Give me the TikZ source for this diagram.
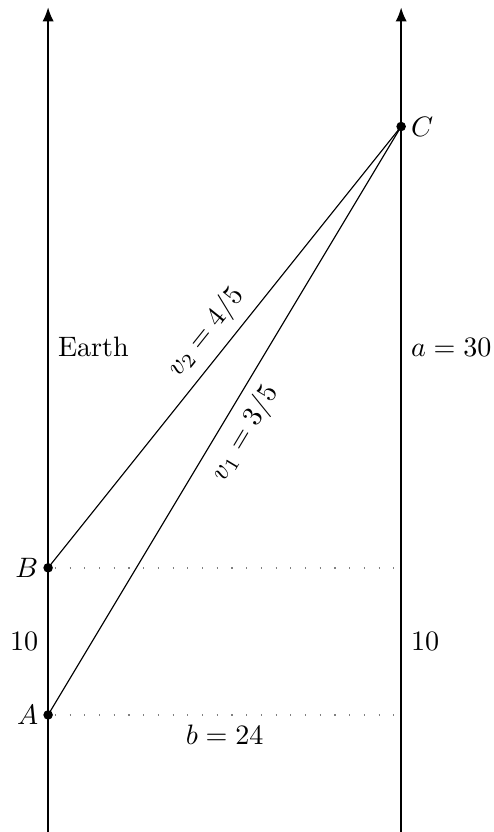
\documentclass[tikz,border=0pt]{standalone}
\usetikzlibrary{arrows.meta}
\begin{document}
\begin{tikzpicture}[x=5.235pt,y=5.235pt,
  axisline/.style={-{Latex[length=5pt,width=4pt]}},
  worldline/.style={line width=0.4pt},
  dotline/.style={gray,line width=0.5pt,dash pattern=on 0.4pt off 4.835pt,dash phase=2.815pt},
  evdot/.style={fill=black}]
\useasboundingbox (-3.27,-7.96) rectangle (30.31,48.6);
% coordinates
\coordinate (A) at (0,0);
\coordinate (B) at (0,10);
\coordinate (C) at (24,40);
\coordinate (Lb) at (0,-7.96);
\coordinate (Lt) at (0,48.1);
\coordinate (Rb) at (24,-7.96);
\coordinate (Rt) at (24,48.1);
\coordinate (Ad) at (24,0);
\coordinate (Bd) at (24,10);
% axes
\draw[axisline,line width=0.45pt] (Lb) -- (Lt);
\draw[axisline,line width=0.6pt] (Rb) -- (Rt);
\draw[line width=0.8pt] (A) -- (B);
% dotted
\draw[dotline] (A) -- (Ad);
\draw[dotline] (B) -- (Bd);
% world lines
\draw[worldline] (B) -- node[midway,above,sloped] {$v_2=4/5$} (C);
\draw[worldline] (A) -- node[midway,below,sloped] {$v_1=3/5$} (C);
% dots
\fill[evdot] (A) circle (1.7pt);
\fill[evdot] (B) circle (1.7pt);
\fill[evdot] (C) circle (1.7pt);
% labels
\node[left] (la) at (A) {$A$};
\node[left] (lb) at (B) {$B$};
\node[right] (lc) at (C) {$C$};
\node[right] (earth) at (0,25) {Earth};
\node[right] (alab) at (24,25) {$a=30$};
\node[left] (tenl) at (0,5) {$10$};
\node[right] (tenr) at (24,5) {$10$};
\node[below] (blab) at (12,0) {$b=24$};
\end{tikzpicture}
\end{document}
